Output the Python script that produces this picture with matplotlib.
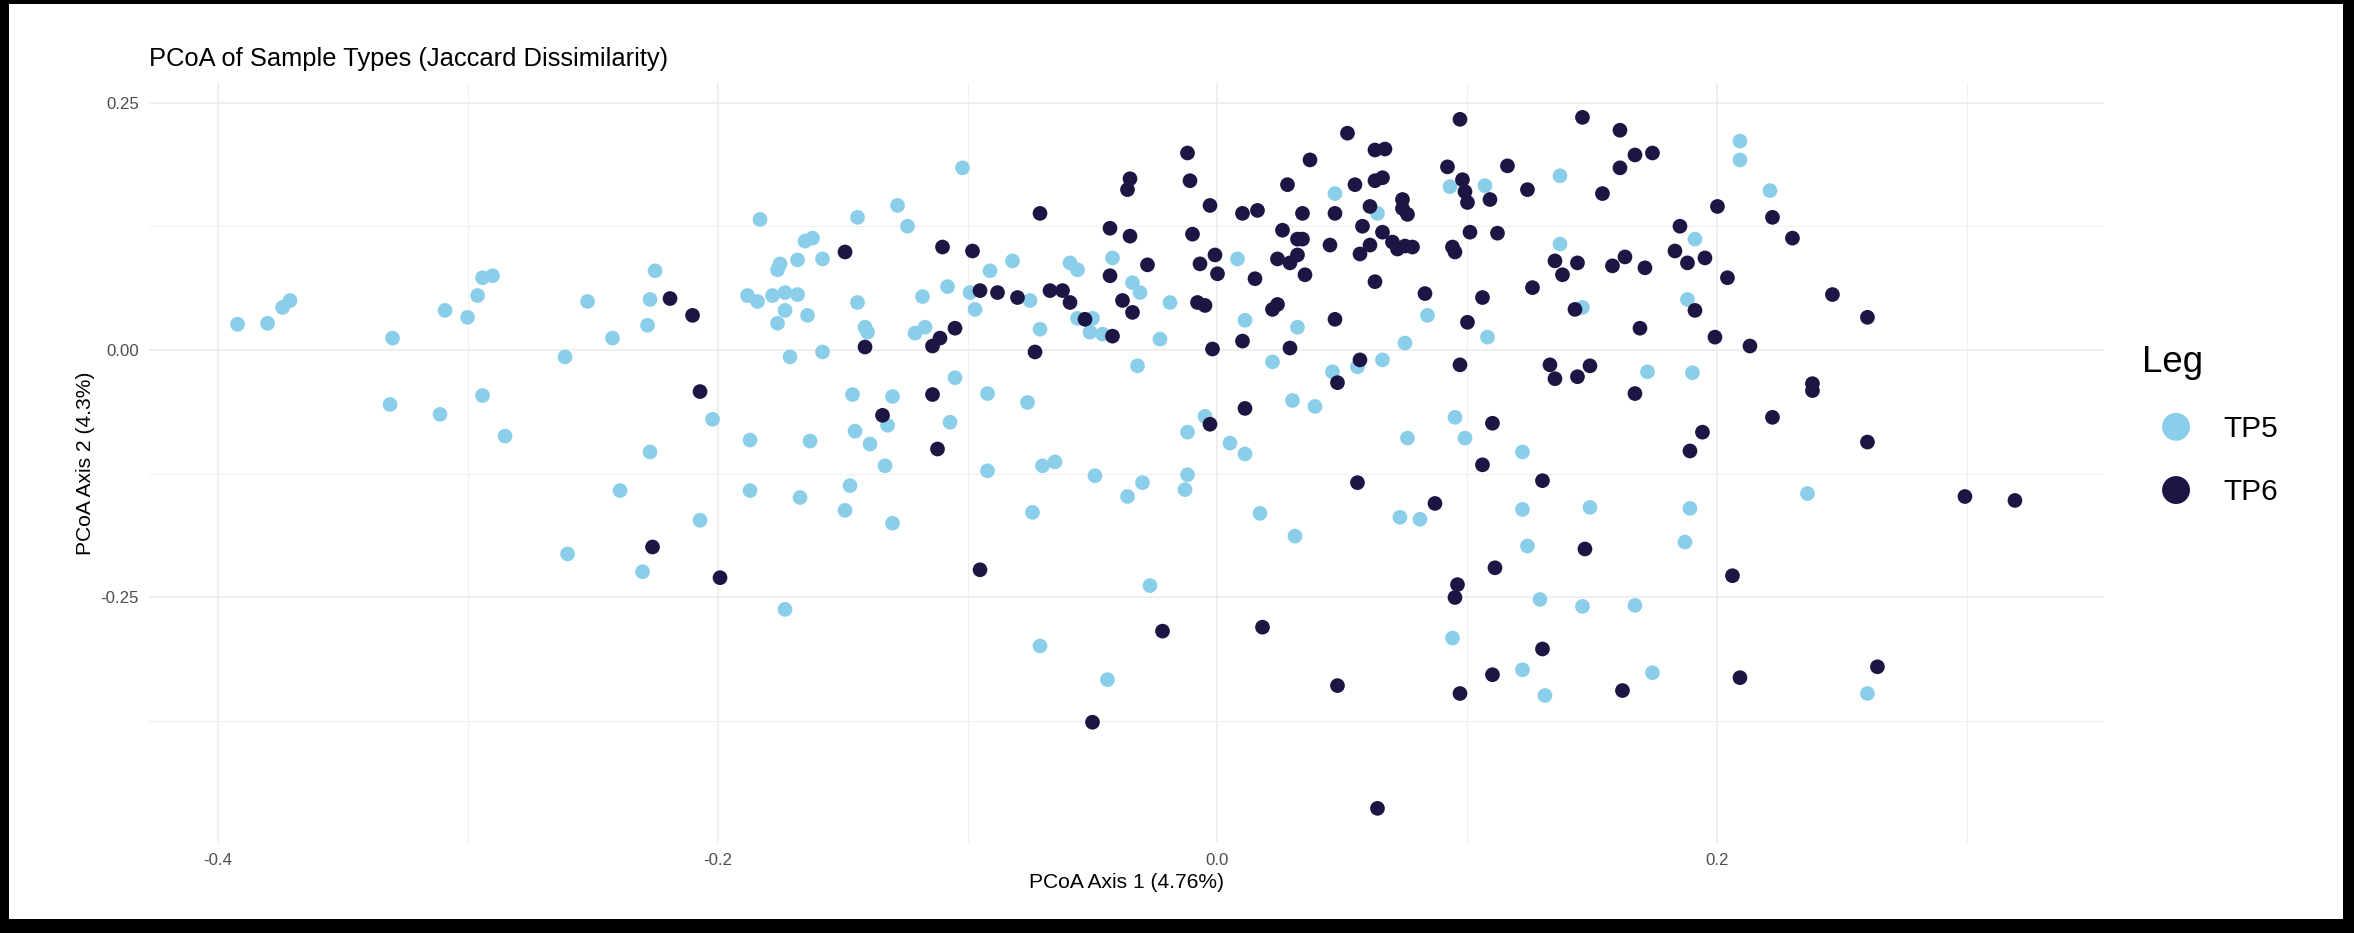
import matplotlib
matplotlib.use("Agg")
import matplotlib.pyplot as plt
from matplotlib.patches import Rectangle

plt.rcParams['font.family'] = ['Liberation Sans', 'DejaVu Sans']

# PCoA coordinates (axis 1, axis 2) per sample
tp5 = [
    (-0.392, 0.026), (-0.380, 0.027), (-0.374, 0.043), (-0.371, 0.050), (-0.330, 0.012),
    (-0.331, -0.055), (-0.309, 0.040), (-0.311, -0.065), (-0.300, 0.033), (-0.296, 0.055),
    (-0.294, 0.073), (-0.290, 0.075), (-0.294, -0.046), (-0.285, -0.087),
    (-0.261, -0.007), (-0.252, 0.049), (-0.242, 0.012), (-0.239, -0.142), (-0.260, -0.206),
    (-0.230, -0.224), (-0.228, 0.025), (-0.227, 0.051), (-0.227, -0.103), (-0.225, 0.080),
    (-0.207, -0.172), (-0.202, -0.070),
    (-0.188, 0.055), (-0.187, -0.091), (-0.187, -0.142), (-0.184, 0.049), (-0.183, 0.132),
    (-0.178, 0.055), (-0.176, 0.081), (-0.176, 0.027), (-0.175, 0.087), (-0.173, 0.058),
    (-0.173, 0.040), (-0.173, -0.262), (-0.171, -0.007), (-0.168, 0.091), (-0.168, 0.056),
    (-0.167, -0.149), (-0.165, 0.110), (-0.164, 0.035), (-0.163, -0.092), (-0.162, 0.113),
    (-0.158, 0.092), (-0.158, -0.002), (-0.149, -0.162), (-0.147, -0.137), (-0.146, -0.045),
    (-0.145, -0.082), (-0.144, 0.134), (-0.144, 0.048), (-0.141, 0.023), (-0.140, 0.018),
    (-0.139, -0.095),
    (-0.133, -0.117), (-0.132, -0.076), (-0.130, -0.047), (-0.130, -0.175), (-0.128, 0.146),
    (-0.124, 0.125), (-0.121, 0.017), (-0.118, 0.054), (-0.117, 0.023), (-0.108, 0.064),
    (-0.107, -0.073), (-0.105, -0.028), (-0.102, 0.184), (-0.099, 0.058), (-0.097, 0.041),
    (-0.092, -0.044), (-0.092, -0.122), (-0.091, 0.080), (-0.082, 0.090), (-0.076, -0.053),
    (-0.075, 0.050), (-0.074, -0.164), (-0.071, 0.021), (-0.071, -0.299), (-0.070, -0.117),
    (-0.065, -0.113), (-0.059, 0.088), (-0.056, 0.081), (-0.056, 0.032), (-0.051, 0.018),
    (-0.050, 0.032), (-0.049, -0.127), (-0.046, 0.016), (-0.044, -0.333), (-0.042, 0.093),
    (-0.036, -0.148), (-0.034, 0.068), (-0.032, -0.016), (-0.031, 0.058), (-0.030, -0.134),
    (-0.027, -0.238), (-0.023, 0.011), (-0.019, 0.048), (-0.013, -0.141), (-0.012, -0.083),
    (-0.012, -0.126), (-0.005, -0.067), (0.005, -0.094), (0.008, 0.092), (0.011, 0.030),
    (0.011, -0.105),
    (0.017, -0.165), (0.022, -0.012), (0.030, -0.051), (0.031, -0.188), (0.032, 0.023),
    (0.039, -0.057), (0.046, -0.022), (0.047, 0.158), (0.056, -0.017), (0.064, 0.138),
    (0.066, -0.010), (0.073, -0.169), (0.075, 0.007), (0.076, -0.089), (0.081, -0.171),
    (0.084, 0.035), (0.093, 0.165), (0.094, -0.291), (0.095, -0.068), (0.099, -0.089),
    (0.107, 0.166), (0.108, 0.013), (0.122, -0.103), (0.122, -0.161), (0.122, -0.323),
    (0.124, -0.198), (0.129, -0.252), (0.131, -0.349), (0.137, 0.176), (0.137, 0.107),
    (0.146, 0.043), (0.146, -0.259), (0.149, -0.159),
    (0.167, -0.258), (0.172, -0.022), (0.174, -0.326), (0.187, -0.194), (0.188, 0.051),
    (0.189, -0.160), (0.190, -0.023), (0.191, 0.112), (0.209, 0.211), (0.209, 0.192),
    (0.221, 0.161), (0.236, -0.145), (0.260, -0.347),
]

tp6 = [
    (-0.149, 0.099), (-0.219, 0.052), (-0.210, 0.035), (-0.141, 0.003), (-0.207, -0.042),
    (-0.226, -0.199), (-0.199, -0.230),
    (-0.110, 0.104), (-0.098, 0.100), (-0.071, 0.138), (-0.095, 0.060), (-0.088, 0.058),
    (-0.080, 0.053), (-0.067, 0.060), (-0.062, 0.060), (-0.059, 0.048), (-0.053, 0.031),
    (-0.042, 0.014), (-0.073, -0.002), (-0.114, 0.004), (-0.111, 0.012), (-0.105, 0.022),
    (-0.035, 0.173), (-0.036, 0.162), (-0.043, 0.123), (-0.035, 0.115), (-0.043, 0.075),
    (-0.028, 0.086), (-0.038, 0.050), (-0.034, 0.038), (-0.012, 0.199), (-0.011, 0.171),
    (-0.003, 0.146), (0.010, 0.138), (-0.010, 0.117), (-0.001, 0.096), (-0.007, 0.087),
    (0.000, 0.077), (-0.008, 0.048), (-0.005, 0.045), (0.010, 0.009), (-0.002, 0.001),
    (-0.134, -0.066), (-0.114, -0.045), (-0.112, -0.100), (-0.003, -0.075), (0.011, -0.059),
    (-0.095, -0.222), (-0.022, -0.284), (-0.050, -0.376),
    (0.097, 0.233), (0.146, 0.235), (0.161, 0.222), (0.052, 0.219), (0.063, 0.202),
    (0.067, 0.203), (0.037, 0.192), (0.092, 0.185), (0.116, 0.186), (0.161, 0.184),
    (0.028, 0.167), (0.055, 0.167), (0.063, 0.171), (0.066, 0.174), (0.098, 0.172),
    (0.099, 0.160), (0.100, 0.149), (0.109, 0.152), (0.124, 0.162), (0.154, 0.158),
    (0.016, 0.141), (0.034, 0.138), (0.047, 0.138), (0.061, 0.145), (0.074, 0.152),
    (0.074, 0.143), (0.076, 0.137), (0.026, 0.121), (0.032, 0.112), (0.034, 0.112),
    (0.045, 0.106), (0.058, 0.125), (0.066, 0.119), (0.061, 0.106), (0.057, 0.097),
    (0.070, 0.109), (0.072, 0.102), (0.075, 0.105), (0.078, 0.104), (0.024, 0.092),
    (0.032, 0.096), (0.029, 0.088), (0.035, 0.076), (0.015, 0.072), (0.063, 0.069),
    (0.094, 0.104), (0.095, 0.099), (0.101, 0.119), (0.112, 0.118), (0.135, 0.090),
    (0.144, 0.088), (0.138, 0.076), (0.158, 0.085), (0.163, 0.094), (0.126, 0.063),
    (0.083, 0.057), (0.106, 0.053), (0.100, 0.028), (0.143, 0.041), (0.022, 0.041),
    (0.024, 0.046), (0.047, 0.031), (0.029, 0.002), (0.057, -0.010), (0.048, -0.033),
    (0.097, -0.015), (0.133, -0.015), (0.135, -0.029), (0.144, -0.027), (0.149, -0.016),
    (0.110, -0.074), (0.106, -0.116),
    (0.056, -0.134), (0.130, -0.132), (0.087, -0.155), (0.147, -0.201), (0.111, -0.220),
    (0.096, -0.237), (0.095, -0.250), (0.018, -0.280), (0.130, -0.302), (0.110, -0.328),
    (0.097, -0.347), (0.162, -0.344), (0.048, -0.339), (0.064, -0.463),
    (0.167, 0.197), (0.174, 0.199), (0.200, 0.145), (0.185, 0.125), (0.222, 0.134),
    (0.230, 0.113), (0.183, 0.100), (0.188, 0.088), (0.195, 0.093), (0.171, 0.083),
    (0.204, 0.073), (0.246, 0.056), (0.191, 0.040), (0.260, 0.033), (0.169, 0.022),
    (0.199, 0.013), (0.213, 0.004), (0.167, -0.044), (0.238, -0.034), (0.238, -0.041),
    (0.222, -0.068), (0.194, -0.083), (0.260, -0.093),
    (0.189, -0.102), (0.299, -0.148), (0.319, -0.152), (0.206, -0.228), (0.209, -0.331),
    (0.264, -0.320),
]

groups = ["TP5", "TP6"]
colors = {"TP5": "#8BCEEA", "TP6": "#1B1643"}

x_major = [-0.4, -0.2, 0.0, 0.2]
x_minor = [-0.3, -0.1, 0.1, 0.3]
x_labels = ["-0.4", "-0.2", "0.0", "0.2"]
y_major = [-0.25, 0.0, 0.25]
y_minor = [-0.375, -0.125, 0.125]
y_labels = ["-0.25", "0.00", "0.25"]

W, H = 2354, 933
fig = plt.figure(figsize=(W / 100, H / 100), dpi=100, facecolor="black")
# white page inside the dark frame
fig.patches.append(Rectangle((9 / W, 14 / H), (2343 - 9) / W, (929 - 14) / H,
                             transform=fig.transFigure, facecolor="white",
                             edgecolor="none", zorder=-5))

ax = fig.add_axes([148.7 / W, 1 - 842.9 / H, (2103.8 - 148.7) / W, (842.9 - 82.8) / H])
ax.set_facecolor("white")

handles = []
for g, pts in zip(groups, [tp5, tp6]):
    xs = [p[0] for p in pts]
    ys = [p[1] for p in pts]
    h = ax.scatter(xs, ys, s=112, color=colors[g], edgecolors="none", zorder=3, label=g)
    handles.append(h)

ax.margins(0.05)

ax.set_xticks(x_major)
ax.set_xticklabels(x_labels)
ax.set_xticks(x_minor, minor=True)
ax.set_yticks(y_major)
ax.set_yticklabels(y_labels)
ax.set_yticks(y_minor, minor=True)

ax.grid(which="major", color="#EBEBEB", linewidth=1.1, zorder=0)
ax.grid(which="minor", color="#F0F0F0", linewidth=0.8, zorder=0)
ax.set_axisbelow(True)
for sp in ax.spines.values():
    sp.set_visible(False)
ax.tick_params(which="both", length=0, labelsize=12.1, labelcolor="#4D4D4D")
ax.tick_params(axis="x", pad=7)
ax.tick_params(axis="y", pad=7)

ax.set_xlabel("PCoA Axis 1 (4.76%)", fontsize=15.1, labelpad=4)
ax.set_ylabel("PCoA Axis 2 (4.3%)", fontsize=15.1, labelpad=4)
ax.set_title("PCoA of Sample Types (Jaccard Dissimilarity)", loc="left", fontsize=18.4, pad=12)

leg = ax.legend(handles, groups, title="Leg", loc="upper left",
                bbox_to_anchor=(2141.7 / W, 1 - 345 / H), bbox_transform=fig.transFigure,
                frameon=False, fontsize=21.5, title_fontsize=26.5, markerscale=1.9,
                scatterpoints=1, scatteryoffsets=[0.5], handlelength=2.3,
                handletextpad=0.45, labelspacing=1.18, borderpad=0, borderaxespad=0,
                alignment="left")

fig.savefig("out.png", dpi=100, facecolor=fig.get_facecolor())
